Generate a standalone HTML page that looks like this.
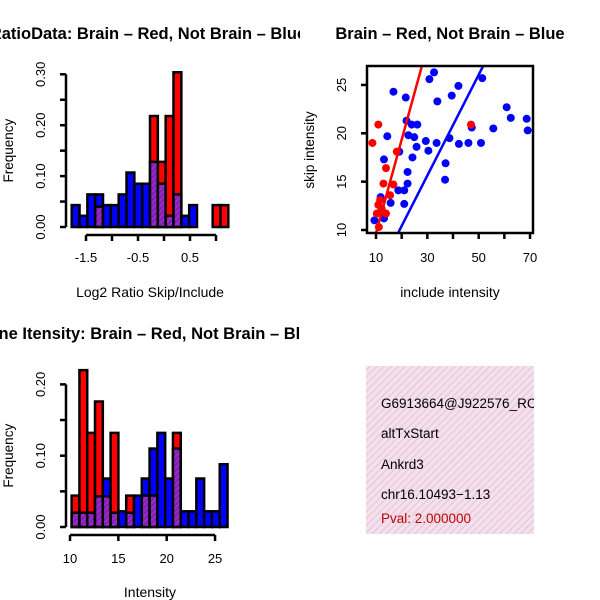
<!DOCTYPE html>
<html><head><meta charset="utf-8"><style>
html,body{margin:0;padding:0;background:#fff}
svg{display:block;font-family:"Liberation Sans",sans-serif}
</style></head><body>
<svg id="s" width="600" height="600" viewBox="0 0 600 600">
<defs>
<pattern id="hp" width="4" height="4" patternUnits="userSpaceOnUse" patternTransform="rotate(45)">
<rect width="4" height="4" fill="#a020f0"/><rect width="2" height="4" fill="#7a2a8a"/></pattern>
<pattern id="pk" width="5" height="5" patternUnits="userSpaceOnUse" patternTransform="rotate(45)">
<rect width="5" height="5" fill="#fadcf4"/><rect width="1.2" height="5" fill="#d4d4c4"/></pattern>
<clipPath id="c1"><rect x="0" y="0" width="300" height="300"/></clipPath>
<clipPath id="c2"><rect x="0" y="300" width="300" height="300"/></clipPath>
<clipPath id="c3"><rect x="367" y="66" width="166" height="167"/></clipPath>
<clipPath id="c4"><rect x="366" y="366" width="168" height="168"/></clipPath>
</defs>
<g id="h1"></g>
<g id="h2"></g>
<g id="sc"></g>
<g clip-path="url(#c4)">
<rect x="366" y="366" width="168" height="168" fill="url(#pk)"/>
<text x="381" y="408" font-size="13.5">G6913664@J922576_RC</text>
<text x="381" y="438" font-size="13.5">altTxStart</text>
<text x="381" y="469" font-size="13.5">Ankrd3</text>
<text x="381" y="499" font-size="13.5">chr16.10493−1.13</text>
<text x="381" y="523" font-size="13.5" fill="#c00000">Pval: 2.000000</text>
</g>
</svg>
<script>
// Histogram 1 data (Log2 ratio)
const h1Start = -1.775, h1Width = 0.1506;
const h1Red  = [0,0,0,0.04,0,0,0,0,0,0,0.218,0.128,0.218,0.304,0,0,0,0,0.043,0.043];
const h1Blue = [0.043,0.022,0.064,0.064,0.043,0.043,0.064,0.107,0.085,0.085,0.128,0.085,0.022,0.064,0.022,0.043,0,0,0,0];
const h1XTicks = [-1.5,-1.0,-0.5,0.0,0.5,1.0];
const h1XLabels = ["-1.5","","-0.5","","0.5",""];
const h1YTicks = [0,0.05,0.1,0.15,0.2,0.25,0.3];
const h1YLabels = ["0.00","","0.10","","0.20","","0.30"];
// Histogram 2 data (intensity)
const h2Start = 10.17, h2Width = 0.806;
const h2Red  = [0.044,0.22,0.132,0.176,0.043,0.132,0,0.044,0,0.044,0.044,0,0,0.132,0,0,0,0,0,0];
const h2Blue = [0.02,0.02,0.02,0.043,0.068,0.02,0.022,0.02,0.044,0.068,0.11,0.132,0.068,0.11,0.022,0.022,0.068,0.022,0.022,0.088];
const h2XTicks = [10,15,20,25];
const h2YTicks = [0,0.05,0.1,0.15,0.2];
const h2YLabels = ["0.00","","0.10","","0.20"];
// Scatter data
const blueX = [16.8,21.6,32.6,30.8,42.1,33.9,39.5,51.4,60.9,62.5,68.7,69.1,55.7,47.3,21.9,23.9,26.1,22.6,24.9,14.4,29.4,33.6,38.6,42.3,46,50.9,25.8,30.4,19.1,24.2,13.1,37.1,22.3,22.3,36.9,18.7,21.0,11.8,15.7,21.0,13.1,9.4];
const blueY = [24.3,23.7,26.3,25.6,24.9,23.3,23.9,25.7,22.7,21.6,21.5,20.3,20.5,20.6,21.3,20.9,20.9,19.8,19.6,19.7,19.2,19.0,19.5,18.9,19.0,19.0,18.6,18.2,18.1,17.5,17.3,16.9,16.0,14.8,15.2,14.1,14.1,13.4,12.8,12.7,11.2,11.0];
const redX = [10.9,8.6,18.1,13.9,12.9,16.8,15.5,10.9,12.2,13.9,10.3,11.1,47,11.6];
const redY = [20.9,19.0,18.1,16.4,14.8,14.7,13.6,12.6,12.2,11.7,11.7,10.3,20.9,13.1];
const redSlope = 0.967, redIntercept = 0;
const blueSlope = 0.521, blueIntercept = 0;
const scXTicks = [10,20,30,40,50,60,70];
const scXLabels = ["10","","30","","50","","70"];
const scYTicks = [10,15,20,25];

const NS = "http://www.w3.org/2000/svg";
function mk(p, tag, a, txt){const e=document.createElementNS(NS,tag);for(const k in a)e.setAttribute(k,a[k]);if(txt!==undefined)e.textContent=txt;p.appendChild(e);return e;}

function hist(g, clip, start, w, red, blue, sx, sy, xt, xl, yt, yl, axY, axX, title, xlab, tY, xlY, xTickY){
  const cg = mk(g,'g',{'clip-path':'url(#'+clip+')'});
  for(let i=0;i<red.length;i++){
    const x0=sx(start+i*w), x1=sx(start+(i+1)*w);
    const r=red[i], b=blue[i];
    const hi=Math.max(r,b), lo=Math.min(r,b);
    if(hi>0){
      const el=mk(cg,'rect',{x:x0,y:sy(hi),width:x1-x0,height:sy(0)-sy(hi),fill:r>=b?'#ff0000':'#0000ff',stroke:'#000','stroke-width':2.5});
      
      
    }
    if(lo>0){
      const el=mk(cg,'rect',{x:x0,y:sy(lo),width:x1-x0,height:sy(0)-sy(lo),fill:'url(#hp)',stroke:'#000','stroke-width':2.5});
      
      
    }
  }
  const ya=mk(g,'g',{});
  
  
  mk(ya,'line',{x1:axX,x2:axX,y1:sy(yt[0]),y2:sy(yt[yt.length-1]),stroke:'#000','stroke-width':2.5});
  yt.forEach((v,i)=>{mk(ya,'line',{x1:axX-6,x2:axX,y1:sy(v),y2:sy(v),stroke:'#000','stroke-width':2.5});
    if(yl[i])mk(ya,'text',{x:0,y:0,'font-size':13,'text-anchor':'middle',transform:'translate('+(axX-21)+','+sy(v)+') rotate(-90)'},yl[i]);});
  const xa=mk(g,'g',{});
  
  
  mk(xa,'line',{x1:sx(xt[0]),x2:sx(xt[xt.length-1]),y1:axY,y2:axY,stroke:'#000','stroke-width':2.5});
  xt.forEach((v,i)=>{mk(xa,'line',{x1:sx(v),x2:sx(v),y1:axY,y2:axY+6,stroke:'#000','stroke-width':2.5});
    if(xl[i])mk(xa,'text',{x:sx(v),y:xTickY,'font-size':13,'text-anchor':'middle'},xl[i]);});
  const tg=mk(g,'g',{'clip-path':'url(#'+clip+')'});
  const t=mk(tg,'text',{x:148,y:tY,'font-size':16.5,'font-weight':'bold','text-anchor':'middle'},title);
  
  
  const xlt=mk(g,'text',{x:150,y:xlY,'font-size':14,'text-anchor':'middle'},xlab);
  
  
  const ylt=mk(g,'text',{x:0,y:0,'font-size':13.5,'text-anchor':'middle',transform:'translate(13,'+((sy(yt[0])+sy(yt[yt.length-1]))/2)+') rotate(-90)'},'Frequency');
  
  
}

// hist 1
hist(document.getElementById('h1'),'c1',h1Start,h1Width,h1Red,h1Blue,
  v=>86+(v+1.5)*52, v=>227-v*509, h1XTicks,h1XLabels,h1YTicks,h1YLabels,235,66,
  'RatioData: Brain – Red, Not Brain – Blue','Log2 Ratio Skip/Include',39,297,262);
// hist 2
hist(document.getElementById('h2'),'c2',h2Start,h2Width,h2Red,h2Blue,
  v=>70+(v-10)*9.67, v=>527-v*713, h2XTicks,h2XTicks.map(String),h2YTicks,h2YLabels,535,66,
  'Gene Itensity: Brain – Red, Not Brain – Blue','Intensity',339,597,563);

// scatter
(function(){
  const g=document.getElementById('sc');
  const sx=v=>376+(v-10)*2.567, sy=v=>230-(v-10)*9.67;
  const cg=mk(g,'g',{'clip-path':'url(#c3)'});
  blueX.forEach((x,i)=>{const c=mk(cg,'circle',{cx:sx(x),cy:sy(blueY[i]),r:4,fill:'#0000ff'});
    
    });
  redX.forEach((x,i)=>{const c=mk(cg,'circle',{cx:sx(x),cy:sy(redY[i]),r:4,fill:'#ff0000'});
    
    });
  [[redSlope,redIntercept,'#ff0000','fit-line-red'],[blueSlope,blueIntercept,'#0000ff','fit-line-blue']].forEach(([m,b,col,n])=>{
    const l=mk(cg,'line',{x1:sx(0),y1:sy(b),x2:sx(100),y2:sy(b+m*100),stroke:col,'stroke-width':2.5});
    
    });
  mk(g,'rect',{x:367,y:66,width:166,height:167,fill:'none',stroke:'#000','stroke-width':2.5});
  scXTicks.forEach((v,i)=>{mk(g,'line',{x1:sx(v),x2:sx(v),y1:233,y2:239,stroke:'#000','stroke-width':2.5});
    if(scXLabels[i])mk(g,'text',{x:sx(v),y:262,'font-size':13,'text-anchor':'middle'},scXLabels[i]);});
  scYTicks.forEach(v=>{mk(g,'line',{x1:361,x2:367,y1:sy(v),y2:sy(v),stroke:'#000','stroke-width':2.5});
    mk(g,'text',{x:0,y:0,'font-size':13,'text-anchor':'middle',transform:'translate(346,'+sy(v)+') rotate(-90)'},String(v));});
  const t=mk(g,'text',{x:450,y:39,'font-size':16.5,'font-weight':'bold','text-anchor':'middle'},'Brain – Red, Not Brain – Blue');
  
  
  const xl=mk(g,'text',{x:450,y:297,'font-size':14,'text-anchor':'middle'},'include intensity');
  
  
  const yl=mk(g,'text',{x:0,y:0,'font-size':13.5,'text-anchor':'middle',transform:'translate(314,150) rotate(-90)'},'skip intensity');
  
  
})();
</script>
</body></html>
